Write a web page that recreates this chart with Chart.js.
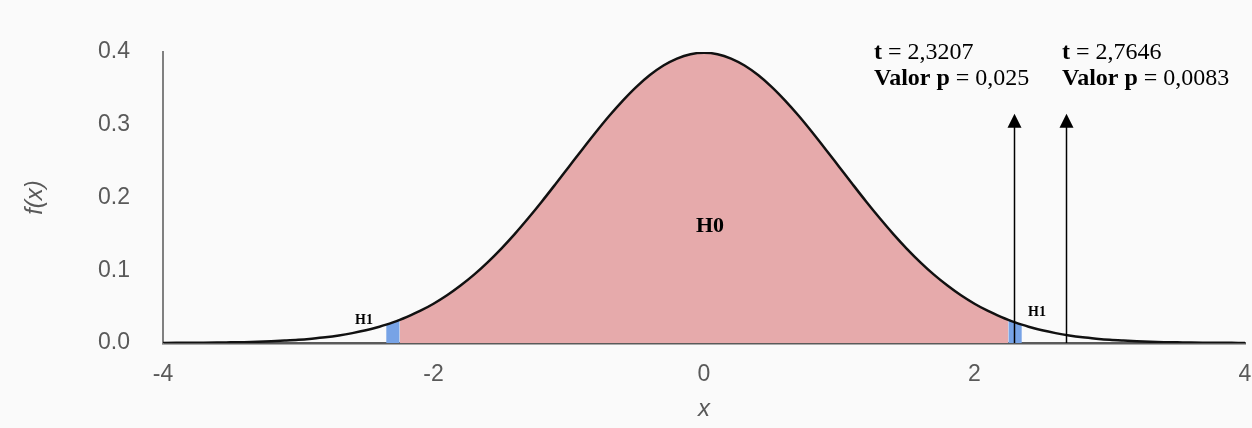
<!DOCTYPE html>
<html>
<head>
<meta charset="utf-8">
<script src="https://cdn.jsdelivr.net/npm/chart.js@4.4.1/dist/chart.umd.min.js"></script>
<style>
  html, body { margin: 0; padding: 0; background: #fafafa; }
  canvas { display: block; }
</style>
</head>
<body>
<canvas id="chart" width="1252" height="428"></canvas>
<script>
// density curve
const curveX = [
  -4.0, -3.9, -3.8, -3.7, -3.6, -3.5, -3.4, -3.3, -3.2, -3.1,
  -3.0, -2.9, -2.8, -2.7, -2.6, -2.5, -2.4, -2.35, -2.3, -2.25,
  -2.2, -2.1, -2.0, -1.9, -1.8, -1.7, -1.6, -1.5, -1.4, -1.3,
  -1.2, -1.1, -1.0, -0.9, -0.8, -0.7, -0.6, -0.5, -0.4, -0.3,
  -0.2, -0.1, 0.0, 0.1, 0.2, 0.3, 0.4, 0.5, 0.6, 0.7,
  0.8, 0.9, 1.0, 1.1, 1.2, 1.3, 1.4, 1.5, 1.6, 1.7,
  1.8, 1.9, 2.0, 2.1, 2.2, 2.25, 2.3, 2.35, 2.4, 2.5,
  2.6, 2.7, 2.8, 2.9, 3.0, 3.1, 3.2, 3.3, 3.4, 3.5,
  3.6, 3.7, 3.8, 3.9, 4.0
];
const curveY = [
  0.0001, 0.0002, 0.0003, 0.0004, 0.0006, 0.0009, 0.0012, 0.0017, 0.0024, 0.0033,
  0.0044, 0.0060, 0.0079, 0.0104, 0.0136, 0.0175, 0.0224, 0.0252, 0.0283, 0.0317,
  0.0355, 0.0440, 0.0540, 0.0656, 0.0790, 0.0940, 0.1109, 0.1295, 0.1497, 0.1714,
  0.1942, 0.2179, 0.2420, 0.2661, 0.2897, 0.3123, 0.3332, 0.3521, 0.3683, 0.3814,
  0.3910, 0.3970, 0.3989, 0.3970, 0.3910, 0.3814, 0.3683, 0.3521, 0.3332, 0.3123,
  0.2897, 0.2661, 0.2420, 0.2179, 0.1942, 0.1714, 0.1497, 0.1295, 0.1109, 0.0940,
  0.0790, 0.0656, 0.0540, 0.0440, 0.0355, 0.0317, 0.0283, 0.0252, 0.0224, 0.0175,
  0.0136, 0.0104, 0.0079, 0.0060, 0.0044, 0.0033, 0.0024, 0.0017, 0.0012, 0.0009,
  0.0006, 0.0004, 0.0003, 0.0002, 0.0001
];

const h0Range = [-2.25, 2.25];
const h1Ranges = [[-2.35, -2.25], [2.25, 2.35]];

const xTicks = [-4, -2, 0, 2, 4];
const yTicks = [0.0, 0.1, 0.2, 0.3, 0.4];

// arrows and their labels
const arrowX = [2.29, 2.68];
const arrowTop = 0.315;
const tValues = ['2,3207', '2,7646'];
const pValues = ['0,025', '0,0083'];

const points = curveX.map((x, i) => ({ x: x, y: curveY[i] }));
const between = (r) => points.filter(p => p.x >= r[0] - 1e-9 && p.x <= r[1] + 1e-9);

const serif = '"Liberation Serif", "Times New Roman", serif';
const sans = '"Liberation Sans", Arial, sans-serif';

function richText(ctx, parts, x, y) {
  let cx = x;
  parts.forEach(([txt, bold]) => {
    ctx.font = (bold ? 'bold ' : '') + '24px ' + serif;
    ctx.fillText(txt, cx, y);
    cx += ctx.measureText(txt).width;
  });
}

const background = {
  id: 'background',
  beforeDraw(chart) {
    const ctx = chart.ctx;
    ctx.save();
    ctx.fillStyle = '#fafafa';
    ctx.fillRect(0, 0, chart.width, chart.height);
    ctx.restore();
  }
};

const annotations = {
  id: 'annotations',
  afterDatasetsDraw(chart) {
    const { ctx, scales: { x, y } } = chart;
    ctx.save();
    ctx.strokeStyle = '#000';
    ctx.fillStyle = '#000';
    arrowX.forEach(v => {
      const px = Math.round(x.getPixelForValue(v)) + 0.5;
      const y0 = y.getPixelForValue(0);
      const y1 = y.getPixelForValue(arrowTop);
      ctx.lineWidth = 1.5;
      ctx.beginPath();
      ctx.moveTo(px, y0);
      ctx.lineTo(px, y1 + 10);
      ctx.stroke();
      ctx.beginPath();
      ctx.moveTo(px, y1);
      ctx.lineTo(px - 7, y1 + 14);
      ctx.lineTo(px + 7, y1 + 14);
      ctx.closePath();
      ctx.fill();
    });

    ctx.textBaseline = 'alphabetic';
    ctx.textAlign = 'left';
    const lefts = [874, 1062];
    tValues.forEach((t, i) => {
      richText(ctx, [['t', true], [' = ' + t, false]], lefts[i], 59);
      richText(ctx, [['Valor p', true], [' = ' + pValues[i], false]], lefts[i], 85);
    });

    ctx.textAlign = 'center';
    ctx.textBaseline = 'middle';
    ctx.font = 'bold 22px ' + serif;
    ctx.fillText('H0', 710, 226);
    ctx.font = 'bold 14px ' + serif;
    ctx.fillText('H1', 364, 320);
    ctx.fillText('H1', 1037, 312);
    ctx.restore();
  }
};

new Chart(document.getElementById('chart'), {
  type: 'scatter',
  data: {
    datasets: [
      {
        label: 'f(x)',
        data: points,
        showLine: true,
        borderColor: '#111111',
        borderWidth: 2.5,
        pointRadius: 0,
        cubicInterpolationMode: 'monotone',
        fill: false
      },
      {
        label: 'H0',
        data: between(h0Range),
        showLine: true,
        borderWidth: 0,
        borderColor: 'rgba(0,0,0,0)',
        backgroundColor: '#e6aaab',
        pointRadius: 0,
        cubicInterpolationMode: 'monotone',
        fill: 'origin'
      },
      ...h1Ranges.map(r => ({
        label: 'H1',
        data: between(r),
        showLine: true,
        borderWidth: 0,
        borderColor: 'rgba(0,0,0,0)',
        backgroundColor: '#77a3e6',
        pointRadius: 0,
        cubicInterpolationMode: 'monotone',
        fill: 'origin'
      }))
    ]
  },
  options: {
    responsive: false,
    animation: false,
    layout: { padding: { top: 52, right: 7, bottom: 0, left: 0 } },
    plugins: {
      legend: { display: false },
      tooltip: { enabled: false }
    },
    scales: {
      x: {
        type: 'linear',
        min: -4,
        max: 4,
        afterBuildTicks: s => { s.ticks = xTicks.map(v => ({ value: v })); },
        afterFit: s => { s.height = 85; s.paddingLeft = 0; s.paddingRight = 0; },
        grid: { display: false, drawTicks: false },
        border: { display: true, color: '#5a5a5a', width: 2.5 },
        ticks: {
          padding: 18,
          color: '#595959',
          font: { family: sans, size: 23 },
          callback: v => String(v)
        },
        title: {
          display: true,
          text: 'x',
          color: '#595959',
          padding: { top: 0, bottom: 4 },
          font: { family: sans, size: 24, style: 'italic' }
        }
      },
      y: {
        min: 0,
        max: 0.4,
        afterBuildTicks: s => { s.ticks = yTicks.map(v => ({ value: v })); },
        afterFit: s => { s.width = 163; s.paddingTop = 0; s.paddingBottom = 0; },
        grid: { display: false, drawTicks: false },
        border: { display: true, color: '#808080', width: 2 },
        ticks: {
          padding: 33,
          color: '#595959',
          font: { family: sans, size: 23 },
          callback: v => v.toFixed(1)
        },
        title: {
          display: true,
          text: 'f(x)',
          color: '#595959',
          padding: { top: 21, bottom: 0 },
          font: { family: sans, size: 24, style: 'italic' }
        }
      }
    }
  },
  plugins: [background, annotations]
});
</script>
</body>
</html>
